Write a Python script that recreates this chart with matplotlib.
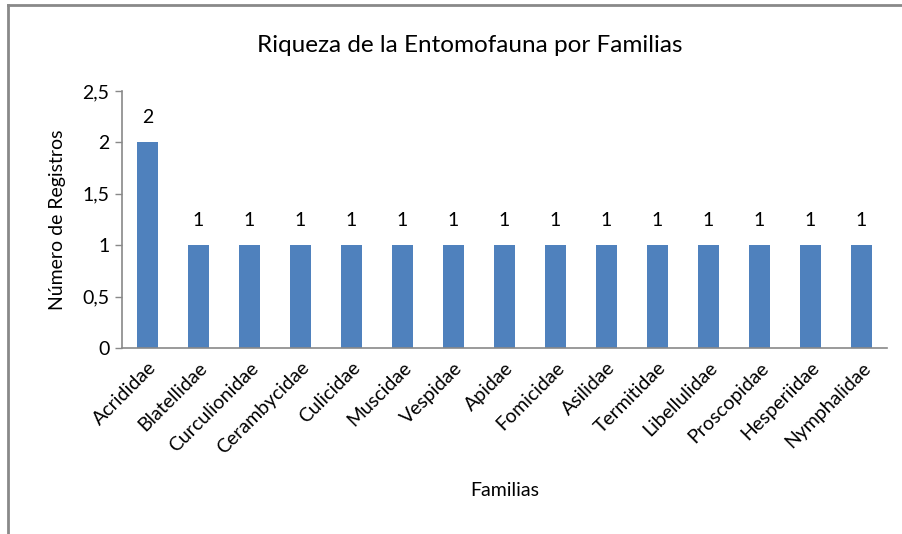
import matplotlib
matplotlib.use("Agg")
import matplotlib.pyplot as plt
from matplotlib.lines import Line2D
from matplotlib.ticker import FuncFormatter

categories = ["Acrididae", "Blatellidae", "Curculionidae", "Cerambycidae", "Culicidae",
              "Muscidae", "Vespidae", "Apidae", "Fomicidae", "Asilidae", "Termitidae",
              "Libellulidae", "Proscopidae", "Hesperiidae", "Nymphalidae"]
values = [2, 1, 1, 1, 1, 1, 1, 1, 1, 1, 1, 1, 1, 1, 1]
y_ticks = [0, 0.5, 1, 1.5, 2, 2.5]

plt.rcParams['font.family'] = ['Lato', 'DejaVu Sans']

W, H = 903, 534
fig = plt.figure(figsize=(W / 100, H / 100), dpi=100)
fig.patch.set_facecolor('white')

# outer frame (top and left visible)
border_col = '#898989'
fig.add_artist(Line2D([8 / W, 1.0], [1 - 5 / H, 1 - 5 / H], transform=fig.transFigure,
                      color=border_col, lw=2))
fig.add_artist(Line2D([8 / W, 8 / W], [0, 1 - 5 / H], transform=fig.transFigure,
                      color=border_col, lw=2))

left, right = 122 / W, 887 / W
bottom, top = 1 - 348 / H, 1 - 91 / H
ax = fig.add_axes([left, bottom, right - left, top - bottom])

fs = 14
x = list(range(len(categories)))
ax.bar(x, values, width=0.4, color='#4F81BD', zorder=2)
ax.set_xlim(-0.5, len(categories) - 0.5)
ax.set_ylim(0, 2.5)
ax.set_yticks(y_ticks)
ax.yaxis.set_major_formatter(FuncFormatter(lambda v, p: (f"{v:g}").replace('.', ',')))

for xi, v in zip(x, values):
    ax.annotate(f"{v}", (xi, v), xytext=(0, 12), textcoords='offset points',
                ha='center', va='bottom', fontsize=fs, color='black')

ax.set_xticks(x)
ax.set_xticklabels(categories, rotation=45, ha='right', rotation_mode='anchor',
                   fontsize=fs)
ax.tick_params(axis='x', length=0, pad=8)
ax.tick_params(axis='y', length=5, width=1, color='#898989', labelsize=fs, pad=4)

for s in ['top', 'right']:
    ax.spines[s].set_visible(False)
for s in ['left', 'bottom']:
    ax.spines[s].set_color('#898989')
    ax.spines[s].set_linewidth(1.2)

ax.set_ylabel("Número de Registros", fontsize=fs, labelpad=12)
fig.text((left + right) / 2, 1 - 490 / H, "Familias", ha='center', va='center', fontsize=fs)
fig.text(470 / W, 1 - 45 / H, "Riqueza de la Entomofauna por Familias",
         ha='center', va='center', fontsize=17.5)

fig.savefig("out.png", dpi=100, facecolor='white')
